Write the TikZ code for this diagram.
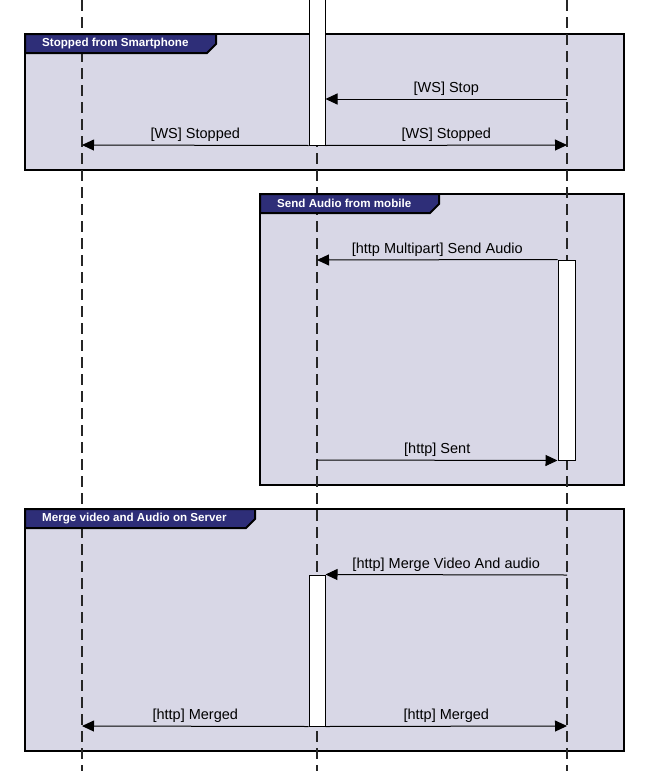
\documentclass[tikz,border=0pt]{standalone}
\usepackage{fontspec}
\setmainfont{Liberation Sans}
\usetikzlibrary{arrows.meta}
\definecolor{framefill}{RGB}{216,215,230}
\definecolor{tabfill}{RGB}{46,46,120}
\begin{document}
\begin{tikzpicture}[x=1pt,y=-1pt,
  lifeline/.style={draw=black!85, line width=1.2pt, dash pattern=on 11pt off 6pt},
  sdframe/.style={draw=black, line width=2pt, fill=framefill},
  sdtab/.style={draw=black, line width=2pt, fill=tabfill, line join=miter},
  tabtext/.style={text=white, font=\fontsize{11.6}{13}\selectfont\bfseries, anchor=west, inner sep=0pt},
  actbox/.style={draw=black, line width=1pt, fill=white, inner sep=0pt, minimum width=16pt},
  msg/.style={draw=black, line width=1pt, -{Triangle[length=12pt,width=11pt]}},
  msglabel/.style={font=\fontsize{14.5}{16}\selectfont, anchor=south, inner sep=1pt}
]
\useasboundingbox (0,0) rectangle (648,771);

% frames
\path[sdframe] (25,34) rectangle (624,170);
\path[sdframe] (260,194) rectangle (624,485);
\path[sdframe] (25,509) rectangle (624,751);

% lifelines
\coordinate (aTop) at (82,0);   \coordinate (aBot) at (82,771);
\coordinate (bTop) at (317,0);  \coordinate (bBot) at (317,771);
\coordinate (cTop) at (567,0);  \coordinate (cBot) at (567,771);
\draw[lifeline] (aTop) -- (aBot);
\draw[lifeline] (bTop) -- (bBot);
\draw[lifeline] (cTop) -- (cBot);

% frame tabs
\path[sdtab] (25,34) -- (216,34) -- (216,44) -- (207,53) -- (25,53) -- cycle;
\node[tabtext] (t1) at (42,43.5) {Stopped from Smartphone};
\path[sdtab] (260,194) -- (439,194) -- (439,204) -- (430,213) -- (260,213) -- cycle;
\node[tabtext] (t2) at (277,203) {Send Audio from mobile};
\path[sdtab] (25,509) -- (255,509) -- (255,519) -- (246,528) -- (25,528) -- cycle;
\node[tabtext] (t3) at (42,518.5) {Merge video and Audio on Server};

% activation boxes
\node[actbox, minimum height=148pt] (actA) at (317,71) {};
\node[actbox, minimum width=17pt, minimum height=200pt] (actB) at (566.5,360) {};
\node[actbox, minimum height=151pt] (actC) at (317,650.5) {};

% messages
\coordinate (m1s) at (567,99);
\draw[msg] (m1s) -- (actA.east |- m1s) node[msglabel, midway, yshift=2pt] (l1) {[WS] Stop};

\coordinate (m2) at (82,145);
\draw[msg] (actA.south west) -- (m2) node[msglabel, midway, yshift=2pt] (l2) {[WS] Stopped};
\coordinate (m3) at (567,145);
\draw[msg] (actA.south east) -- (m3) node[msglabel, midway, yshift=2pt] (l3) {[WS] Stopped};

\coordinate (m4) at (317,260);
\draw[msg] (actB.north west) -- (m4) node[msglabel, midway, yshift=2pt] (l4) {[http Multipart] Send Audio};
\coordinate (m5) at (317,460);
\draw[msg] (m5) -- (actB.south west) node[msglabel, midway, yshift=2pt] (l5) {[http] Sent};

\coordinate (m6) at (567,575);
\draw[msg] (m6) -- (actC.north east) node[msglabel, midway, yshift=2pt] (l6) {[http] Merge Video And audio};

\coordinate (m7) at (82,726);
\draw[msg] (actC.south west) -- (m7) node[msglabel, midway, yshift=2pt] (l7) {[http] Merged};
\coordinate (m8) at (567,726);
\draw[msg] (actC.south east) -- (m8) node[msglabel, midway, yshift=2pt] (l8) {[http] Merged};
\end{tikzpicture}
\end{document}
